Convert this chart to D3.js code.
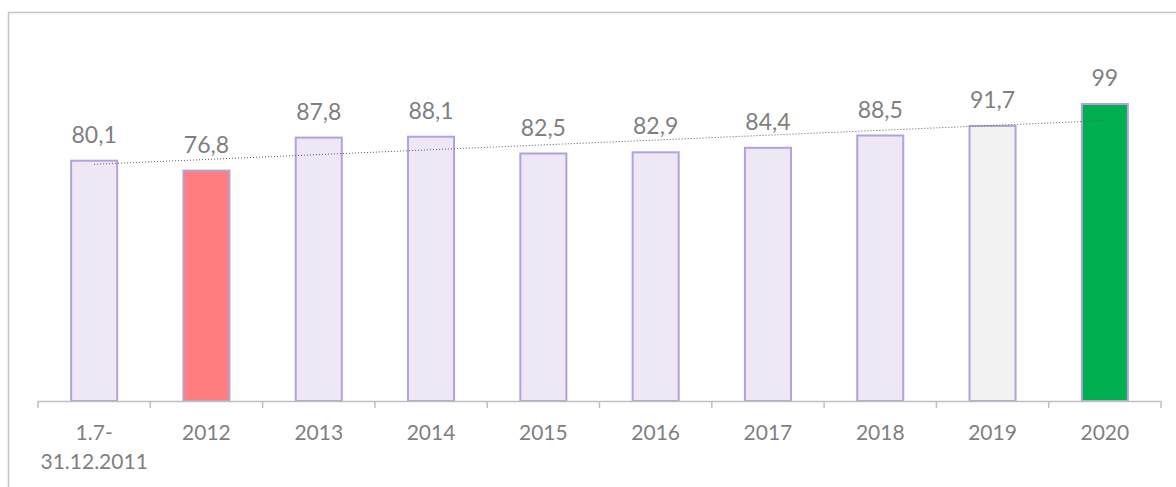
<!DOCTYPE html>
<html>
<head>
  <meta charset="utf-8">
  <script src="https://d3js.org/d3.v7.min.js"></script>
  <style type="text/css">
    body { margin: 0; background: #fff; }
  </style>
</head>
<body>
  <script type="text/javascript">
    // categories and values
    var categories = ['1.7-\n31.12.2011', '2012', '2013', '2014', '2015', '2016', '2017', '2018', '2019', '2020'];
    var values = [80.1, 76.8, 87.8, 88.1, 82.5, 82.9, 84.4, 88.5, 91.7, 99];
    var labels = ['80,1', '76,8', '87,8', '88,1', '82,5', '82,9', '84,4', '88,5', '91,7', '99'];
    var fills = ['#ede7f6', '#ff7c80', '#ede7f6', '#ede7f6', '#ede7f6', '#ede7f6', '#ede7f6', '#ede7f6', '#f2f2f2', '#00b050'];

    var width = 1176,
        height = 487;

    var svg = d3.select('body')
      .append('svg')
        .attr('width', width)
        .attr('height', height);

    // chart frame (only top and left edges are visible in the picture)
    svg.append('path')
      .attr('d', 'M8.5,' + height + 'V12.5H' + width)
      .attr('fill', 'none')
      .attr('stroke', '#c4c4c4')
      .attr('stroke-width', 1.5);

    var x = d3.scaleBand()
      .domain(categories)
      .range([38, 1161])
      .paddingInner(0.59)
      .paddingOuter(0.295);

    var y = d3.scaleLinear()
      .domain([0, 100])
      .range([401, 101]);

    // bars
    svg.selectAll('rect.bar')
      .data(values)
      .enter()
      .append('rect')
        .attr('class', 'bar')
        .attr('x', function (d, i) { return x(categories[i]); })
        .attr('y', function (d) { return y(d); })
        .attr('width', x.bandwidth())
        .attr('height', function (d) { return y(0) - y(d); })
        .style('fill', function (d, i) { return fills[i]; })
        .style('stroke', '#b4a2dc')
        .style('stroke-width', 2);

    // value labels
    svg.selectAll('text.value')
      .data(values)
      .enter()
      .append('text')
        .attr('class', 'value')
        .attr('x', function (d, i) { return x(categories[i]) + x.bandwidth() / 2; })
        .attr('y', function (d) { return y(d) - 18; })
        .attr('text-anchor', 'middle')
        .style('font-family', 'Lato, sans-serif')
        .style('font-size', '23px')
        .style('fill', '#7f7f7f')
        .text(function (d, i) { return labels[i]; });

    // linear trend line (least squares over the values)
    var n = values.length;
    var mx = d3.mean(values, function (d, i) { return i; });
    var my = d3.mean(values);
    var sxy = d3.sum(values, function (d, i) { return (i - mx) * (d - my); });
    var sxx = d3.sum(values, function (d, i) { return (i - mx) * (i - mx); });
    var slope = sxy / sxx;
    var icpt = my - slope * mx;
    var cx = function (i) { return x(categories[i]) + x.bandwidth() / 2; };

    svg.append('line')
      .attr('x1', cx(0))
      .attr('y1', y(icpt))
      .attr('x2', cx(n - 1))
      .attr('y2', y(icpt + slope * (n - 1)))
      .attr('stroke', '#595959')
      .attr('stroke-width', 1)
      .attr('stroke-dasharray', '1,2');

    // x axis
    var xAxis = svg.append('g').attr('class', 'x-axis');
    xAxis.append('line')
      .attr('x1', 38).attr('x2', 1161)
      .attr('y1', 401.5).attr('y2', 401.5)
      .attr('stroke', '#bfbfbf')
      .attr('stroke-width', 1.5);

    var step = x.step();
    var ticks = d3.range(categories.length + 1);
    xAxis.selectAll('line.tick')
      .data(ticks)
      .enter()
      .append('line')
        .attr('class', 'tick')
        .attr('x1', function (d) { return 38 + d * step; })
        .attr('x2', function (d) { return 38 + d * step; })
        .attr('y1', 401)
        .attr('y2', 408)
        .attr('stroke', '#bfbfbf')
        .attr('stroke-width', 1.5);

    xAxis.selectAll('text.cat')
      .data(categories)
      .enter()
      .append('text')
        .attr('class', 'cat')
        .attr('text-anchor', 'middle')
        .style('font-family', 'Lato, sans-serif')
        .style('font-size', '21px')
        .style('fill', '#7f7f7f')
        .each(function (d) {
          var t = d3.select(this);
          d.split('\n').forEach(function (part, k) {
            t.append('tspan')
              .attr('x', x(d) + x.bandwidth() / 2)
              .attr('y', 440 + k * 29)
              .text(part);
          });
        });
  </script>
</body>
</html>
